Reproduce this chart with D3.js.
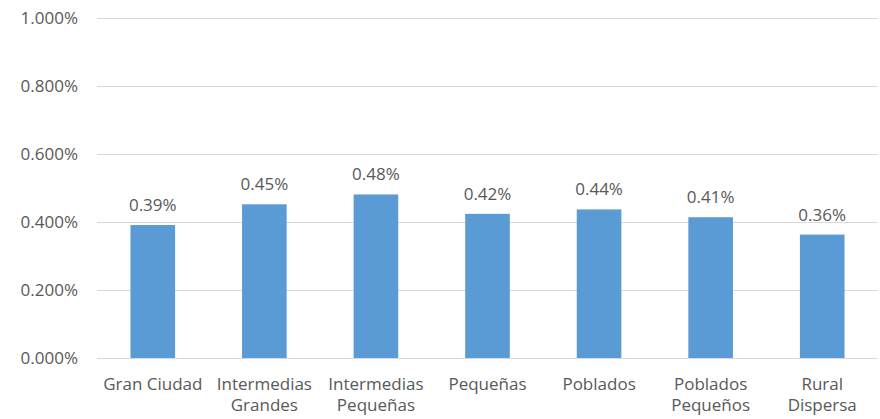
<!DOCTYPE html>
<html>
<head>
<meta charset="utf-8">
<script src="https://cdn.jsdelivr.net/npm/d3@7"></script>
<style>
  html, body { margin: 0; padding: 0; background: #fff; }
  svg text { font-family: "Open Sans", sans-serif; fill: #595959; }
</style>
</head>
<body>
<svg id="chart" width="880" height="419"></svg>
<script>
const categories = [["Gran Ciudad"], ["Intermedias", "Grandes"], ["Intermedias", "Pequeñas"], ["Pequeñas"], ["Poblados"], ["Poblados", "Pequeños"], ["Rural", "Dispersa"]];
const values = [0.391, 0.452, 0.481, 0.424, 0.437, 0.414, 0.363];
const valueLabels = ["0.39%", "0.45%", "0.48%", "0.42%", "0.44%", "0.41%", "0.36%"];
const yTicks = [0, 0.2, 0.4, 0.6, 0.8, 1.0];

const svg = d3.select("#chart");
const margin = { left: 97, right: 2, top: 18, bottom: 61 };
const W = 880, H = 419;

const x = d3.scaleBand()
  .domain(categories.map((d, i) => i))
  .range([margin.left, W - margin.right])
  .paddingInner(0.6)
  .paddingOuter(0.3);

const y = d3.scaleLinear().domain([0, 1.0]).range([H - margin.bottom, margin.top]);

// gridlines
svg.append("g")
  .selectAll("line")
  .data(yTicks)
  .join("line")
  .attr("x1", margin.left)
  .attr("x2", W - margin.right)
  .attr("y1", d => Math.round(y(d)) + 0.5)
  .attr("y2", d => Math.round(y(d)) + 0.5)
  .attr("stroke", "#d9d9d9")
  .attr("stroke-width", 1);

// y axis labels
const yAxis = d3.axisLeft(y).tickValues(yTicks).tickFormat(d => d.toFixed(3) + "%").tickSize(0).tickPadding(19);
const gy = svg.append("g").attr("transform", `translate(${margin.left},0)`).call(yAxis);
gy.select(".domain").remove();
gy.selectAll("text").attr("font-size", 17).attr("fill", "#595959").style("font-family", "Open Sans");

// bars
svg.append("g")
  .selectAll("rect")
  .data(values)
  .join("rect")
  .attr("x", (d, i) => x(i))
  .attr("width", x.bandwidth())
  .attr("y", d => y(d))
  .attr("height", d => y(0) - y(d))
  .attr("fill", "#5b9bd5");

// value labels
svg.append("g")
  .selectAll("text")
  .data(values)
  .join("text")
  .attr("x", (d, i) => x(i) + x.bandwidth() / 2)
  .attr("y", d => y(d) - 14)
  .attr("text-anchor", "middle")
  .attr("font-size", 17)
  .text((d, i) => valueLabels[i]);

// category labels
const catG = svg.append("g");
categories.forEach((lines, i) => {
  const t = catG.append("text")
    .attr("x", x(i) + x.bandwidth() / 2)
    .attr("y", 390)
    .attr("text-anchor", "middle")
    .attr("font-size", 17);
  lines.forEach((l, j) => {
    t.append("tspan")
      .attr("x", x(i) + x.bandwidth() / 2)
      .attr("dy", j === 0 ? 0 : 21)
      .text(l);
  });
});
</script>
</body>
</html>
